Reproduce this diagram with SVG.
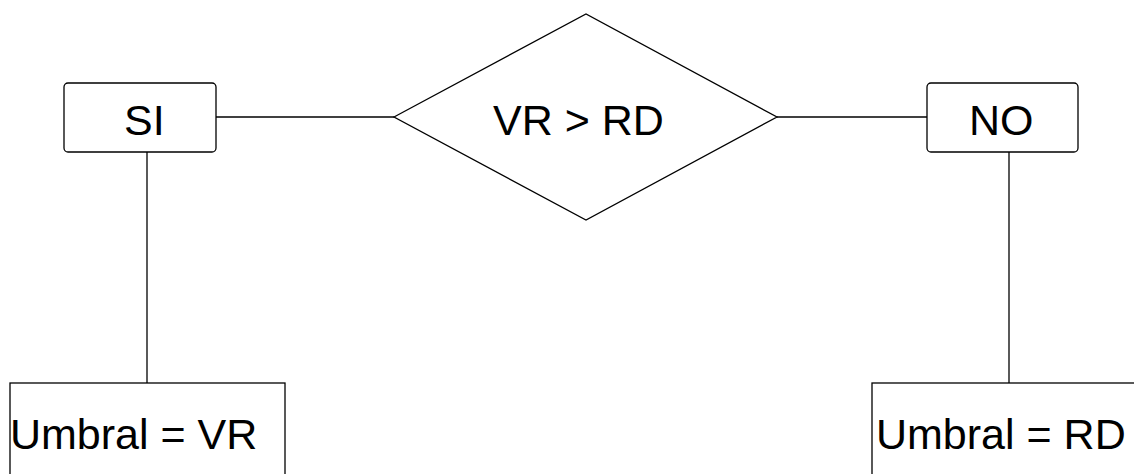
<svg xmlns="http://www.w3.org/2000/svg" width="1134" height="474" viewBox="0 0 1134 474">
<style>
.s{fill:#fff;stroke:#000;stroke-width:1.3}
.c{stroke:#000;stroke-width:1.3;fill:none}
.t{font-family:"Liberation Sans",Arial,sans-serif;font-size:43px;fill:#000}
</style>
<rect width="1134" height="474" fill="#fff"/>
<g id="connectors">
<line class="c" x1="216" y1="117" x2="394" y2="117"/>
<line class="c" x1="777" y1="117" x2="927" y2="117"/>
<line class="c" x1="147" y1="152" x2="147" y2="383"/>
<line class="c" x1="1009" y1="152" x2="1009" y2="383"/>
</g>
<g id="si">
<rect class="s" x="64" y="83" width="152" height="69" rx="4"/>
<text class="t" x="124" y="135">SI</text>
</g>
<g id="cond">
<polygon class="s" points="394,117 586,14 777,117 586,220"/>
<text class="t" x="493" y="135">VR &gt; RD</text>
</g>
<g id="no">
<rect class="s" x="927" y="83" width="151" height="69" rx="4"/>
<text class="t" x="969" y="135">NO</text>
</g>
<g id="umbralvr">
<rect class="s" x="10" y="383" width="275" height="110"/>
<text class="t" x="10" y="449">Umbral = VR</text>
</g>
<g id="umbralrd">
<rect class="s" x="872" y="383" width="280" height="110"/>
<text class="t" x="876" y="449">Umbral = RD</text>
</g>
</svg>
